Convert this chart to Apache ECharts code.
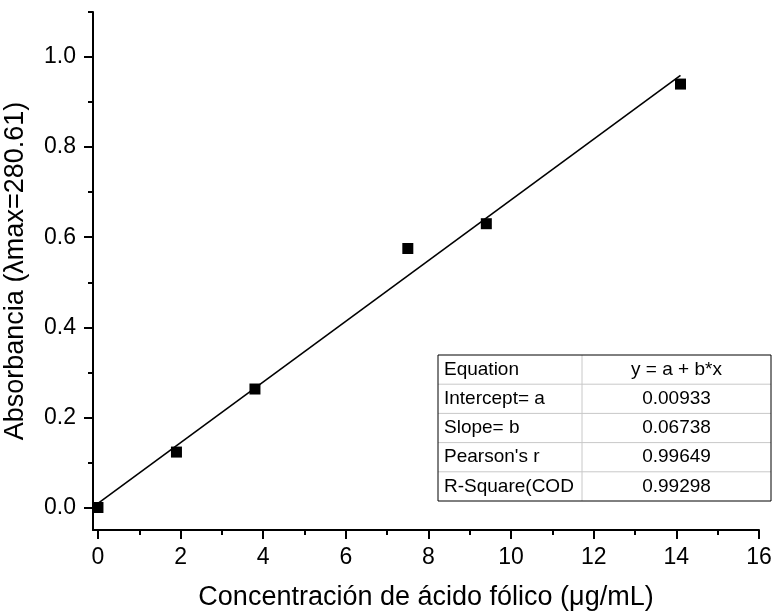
<!DOCTYPE html>
<html>
<head>
<meta charset="utf-8">
<script src="https://cdn.jsdelivr.net/npm/echarts@6/dist/echarts.min.js"></script>
<style>
html,body{margin:0;padding:0;background:#fff;}
#chart{width:773px;height:616px;}
</style>
</head>
<body>
<div id="chart"></div>
<script>
// ---- data ----
const concentrations = [0, 1.9, 3.8, 7.5, 9.4, 14.1];
const absorbances = [0.0, 0.123, 0.263, 0.575, 0.630, 0.940];
const fitIntercept = 0.00933;
const fitSlope = 0.06738;
const fitRange = [0, 14.1];
const xMajorTicks = [0, 2, 4, 6, 8, 10, 12, 14, 16];
const xMinorTicks = [1, 3, 5, 7, 9, 11, 13, 15];
const yMajorTicks = [0.0, 0.2, 0.4, 0.6, 0.8, 1.0];
const yMinorTicks = [0.1, 0.3, 0.5, 0.7, 0.9, 1.1];
const tableLabels = ['Equation', 'Intercept= a', 'Slope= b', "Pearson's r", 'R-Square(COD'];
const tableValues = ['y = a + b*x', '0.00933', '0.06738', '0.99649', '0.99298'];
const xTitle = 'Concentración de ácido fólico (μg/mL)';
const yTitle = 'Absorbancia (λmax=280.61)';

const FONT = 'Liberation Sans, Arial, sans-serif';
const chart = echarts.init(document.getElementById('chart'));

const points = concentrations.map((x, i) => [x, absorbances[i]]);
const fitLine = fitRange.map(x => [x, fitIntercept + fitSlope * x]);

// table graphic
const tLeft = 438, tTop = 355, colW1 = 144, colW2 = 189, rowH = 29.2;
const tableEls = [];
tableEls.push({type: 'rect', shape: {x: tLeft, y: tTop, width: colW1 + colW2, height: rowH * tableLabels.length},
  style: {fill: '#fff', stroke: null}, z: 100});
for (let i = 1; i < tableLabels.length; i++) {
  tableEls.push({type: 'line', shape: {x1: tLeft, y1: tTop + rowH * i, x2: tLeft + colW1 + colW2, y2: tTop + rowH * i},
    style: {stroke: '#c8c8c8', lineWidth: 1}, z: 101});
}
tableEls.push({type: 'line', shape: {x1: tLeft + colW1, y1: tTop, x2: tLeft + colW1, y2: tTop + rowH * tableLabels.length},
  style: {stroke: '#c8c8c8', lineWidth: 1}, z: 101});
tableEls.push({type: 'rect', shape: {x: tLeft, y: tTop, width: colW1 + colW2, height: rowH * tableLabels.length},
  style: {fill: null, stroke: '#000', lineWidth: 1}, z: 102});
tableLabels.forEach((t, i) => {
  tableEls.push({type: 'text', x: tLeft + 6, y: tTop + rowH * (i + 0.5),
    style: {text: t, font: '19px ' + FONT, fill: '#000', textAlign: 'left', textVerticalAlign: 'middle'}, z: 103});
  tableEls.push({type: 'text', x: tLeft + colW1 + colW2 / 2, y: tTop + rowH * (i + 0.5),
    style: {text: tableValues[i], font: '19px ' + FONT, fill: '#000', textAlign: 'center', textVerticalAlign: 'middle'}, z: 103});
});

const axisLineStyle = {color: '#000', width: 2};
const option = {
  animation: false,
  backgroundColor: '#fff',
  grid: {left: 93, right: 14, top: 12, bottom: 86, containLabel: false, outerBoundsMode: 'none'},
  xAxis: [
    {
      type: 'value', min: -0.12, max: 16, position: 'bottom',
      axisLine: {show: true, onZero: false, lineStyle: axisLineStyle},
      axisTick: {show: true, inside: false, length: 9, lineStyle: {color: '#000', width: 2}, customValues: xMajorTicks},
      axisLabel: {show: true, customValues: xMajorTicks, fontSize: 23, fontFamily: FONT, color: '#000', margin: 16,
        formatter: v => String(v)},
      splitLine: {show: false},
      name: xTitle, nameLocation: 'middle', nameGap: 54,
      nameTextStyle: {fontSize: 27, fontFamily: FONT, color: '#000'}
    },
    {
      type: 'value', min: -0.12, max: 16, position: 'bottom', offset: 0,
      axisLine: {show: false, onZero: false},
      axisTick: {show: true, inside: false, length: 5, lineStyle: {color: '#000', width: 2}, customValues: xMinorTicks},
      axisLabel: {show: false},
      splitLine: {show: false}
    }
  ],
  yAxis: [
    {
      type: 'value', min: -0.05, max: 1.1, position: 'left',
      axisLine: {show: true, onZero: false, lineStyle: axisLineStyle},
      axisTick: {show: true, inside: false, length: 9, lineStyle: {color: '#000', width: 2}, customValues: yMajorTicks},
      axisLabel: {show: true, customValues: yMajorTicks, fontSize: 23, fontFamily: FONT, color: '#000', margin: 17,
        formatter: v => v.toFixed(1)},
      splitLine: {show: false},
      name: yTitle, nameLocation: 'middle', nameGap: 64, nameRotate: 90,
      nameTextStyle: {fontSize: 27, fontFamily: FONT, color: '#000'}
    },
    {
      type: 'value', min: -0.05, max: 1.1, position: 'left', offset: 0,
      axisLine: {show: false, onZero: false},
      axisTick: {show: true, inside: false, length: 5, lineStyle: {color: '#000', width: 2}, customValues: yMinorTicks},
      axisLabel: {show: false},
      splitLine: {show: false}
    }
  ],
  series: [
    {
      type: 'line', data: fitLine, xAxisIndex: 0, yAxisIndex: 0,
      showSymbol: false, symbol: 'none',
      lineStyle: {color: '#000', width: 1.6}, z: 2, silent: true
    },
    {
      type: 'scatter', data: points, xAxisIndex: 0, yAxisIndex: 0,
      symbol: 'rect', symbolSize: 11,
      itemStyle: {color: '#000', opacity: 1}, z: 3
    }
  ],
  graphic: tableEls
};
chart.setOption(option);
</script>
</body>
</html>
